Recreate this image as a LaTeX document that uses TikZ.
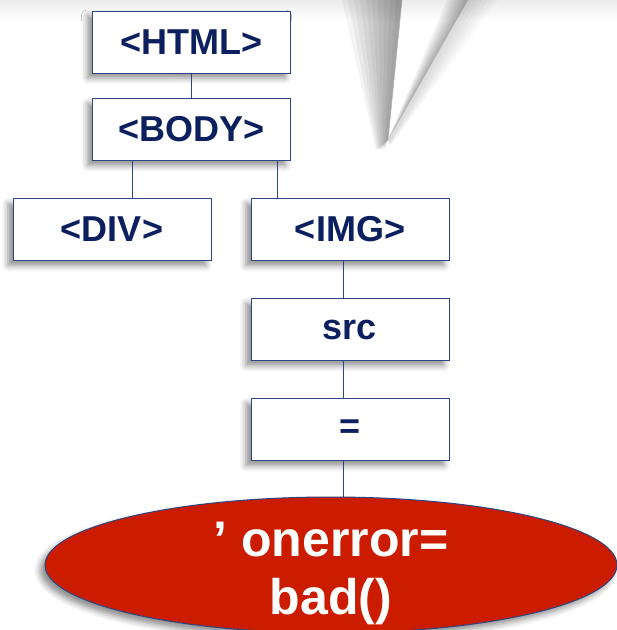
\documentclass[tikz,border=0pt]{standalone}
\usepackage{fontspec}
\setmainfont{Liberation Sans}
\usepackage{tikz}
\usetikzlibrary{shapes.geometric,shadows.blur}

\definecolor{navy}{HTML}{0C1F5E}
\definecolor{edgeblue}{HTML}{2B4683}
\definecolor{badred}{HTML}{CC1C00}

\begin{document}
\begin{tikzpicture}[
  x=1pt, y=-1pt,
  dshadow/.style={blur shadow={shadow xshift=-5pt, shadow yshift=-5pt, shadow blur radius=6pt, shadow opacity=45}},
  tagbox/.style={draw=edgeblue, line width=1pt, fill=white, dshadow, minimum width=198pt, minimum height=62pt, inner sep=0pt, text=navy, font=\fontsize{36}{40}\selectfont\bfseries},
  badnode/.style={ellipse, draw=edgeblue, line width=1pt, fill=badred, dshadow, minimum width=572pt, minimum height=136pt, inner sep=0pt},
  link/.style={draw=edgeblue, line width=1pt},
  tailshade/.style={fill=black, opacity=#1}
]
  \useasboundingbox (0,0) rectangle (617,630);
  % bubble tail at the top
  \shade[top color=black!8, bottom color=white] (0,0) rectangle (617,20);
  \foreach \w in {6,12,...,60}
    \fill[tailshade=0.045] (402-\w,0) -- (402,0) -- (388,140) -- (386-\w/6,150) -- cycle;
  \foreach \w in {5,10,...,30}
    \fill[tailshade=0.025] (468,0) -- (468+\w,0) -- (388+\w/10,145) -- (388,140) -- cycle;
  \foreach \w in {3,6,...,21}
    \fill[tailshade=0.05] (468-\w,0) -- (468,0) -- (388,140) -- cycle;
  \draw[black!30, line width=0.5pt] (402,0) -- (388,140);

  \node[tagbox] (html) at (191.5,42) {<HTML>};
  \node[tagbox] (body) at (191.5,129.5) {<BODY>};
  \node[tagbox] (div)  at (112,229.5) {<DIV>};
  \node[tagbox] (img)  at (350,229.5) {<IMG>};
  \node[tagbox] (src)  at (350,329.5) {src};
  \node[tagbox] (eq)   at (350,429.5) {=};
  \node[badnode, label={[text=white, align=center, yshift=-8pt, font=\fontsize{50}{58}\selectfont\bfseries]center:’ onerror=\\bad()}] (bad) at (331,565) {};

  \draw[link] (html) -- (body);
  \draw[link] ([xshift=40pt]body.south west) -- ([xshift=40pt]body.south west |- div.north);
  \draw[link] ([xshift=-14pt]body.south east) -- ([xshift=-14pt]body.south east |- img.north);
  \draw[link] ([xshift=-7pt]img.south) -- ([xshift=-7pt]src.north);
  \draw[link] ([xshift=-7pt]src.south) -- ([xshift=-7pt]eq.north);
  \draw[link] ([xshift=-7pt]eq.south) -- ([xshift=-7pt]eq.south |- bad.north);
\end{tikzpicture}
\end{document}
